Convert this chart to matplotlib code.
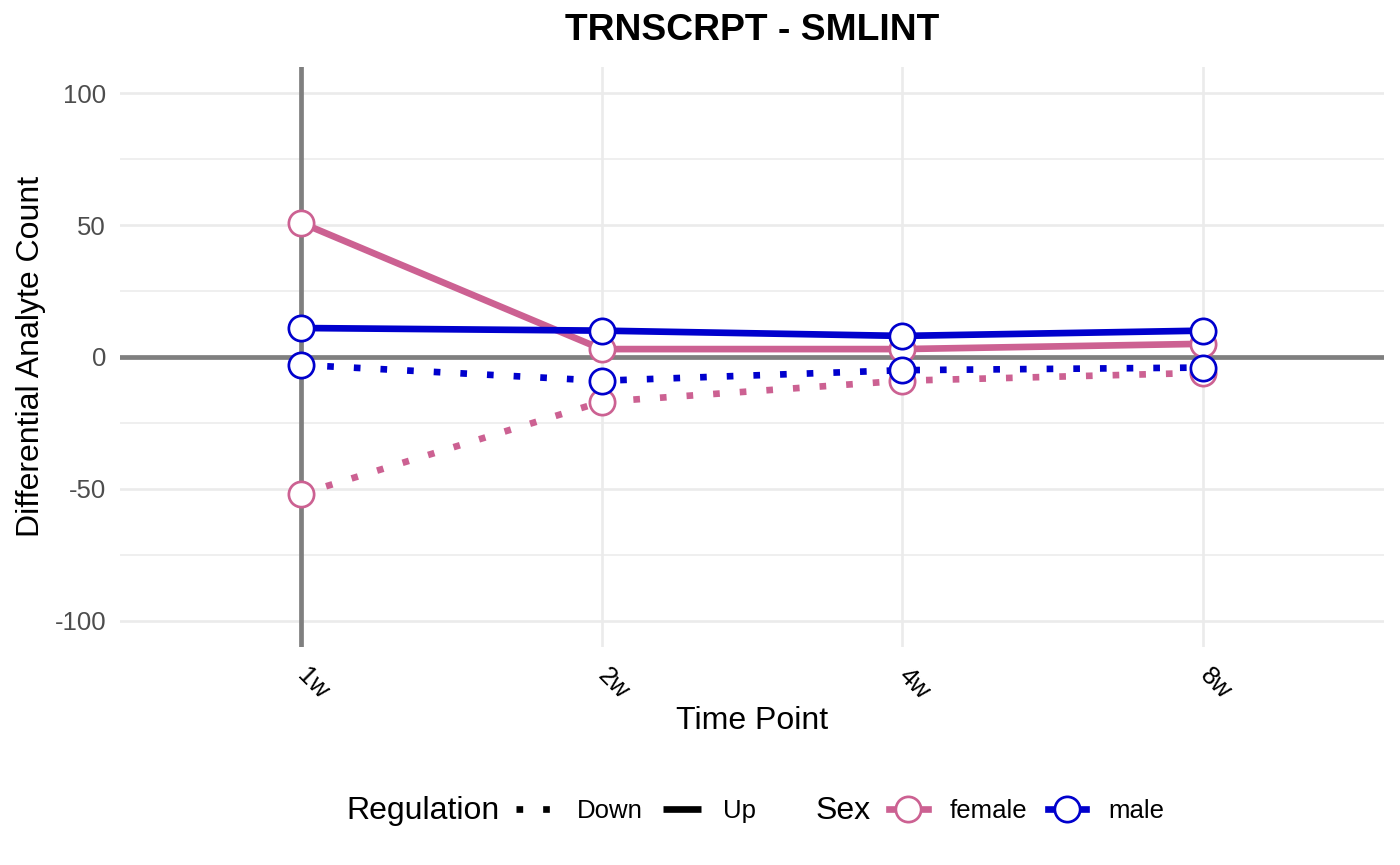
import matplotlib
matplotlib.use("Agg")
import matplotlib.pyplot as plt
from matplotlib.lines import Line2D
import numpy as np

plt.rcParams['font.family'] = ['Liberation Sans', 'DejaVu Sans']

timepoints = ['1w', '2w', '4w', '8w']
female_up = [51, 3, 3, 5]
female_down = [-52, -17, -9, -6]
male_up = [11, 10, 8, 10]
male_down = [-3, -9, -5, -4]
y_ticks = [-100, -50, 0, 50, 100]
y_minor = [-75, -25, 25, 75]

PINK = '#CC6192'
BLUE = '#0000CD'
GRID = '#EBEBEB'
REF = '#7F7F7F'

W, H = 1400, 865
fig = plt.figure(figsize=(W / 100, H / 100), dpi=100)
ax = fig.add_axes([120 / W, 1 - 647 / H, 1264 / W, 580 / H])

x = np.arange(len(timepoints))
ax.set_xlim(-0.6, 3.6)
ax.set_ylim(-110, 110)

# grid
for yv in y_ticks:
    ax.axhline(yv, color=GRID, lw=1.9, zorder=0)
for yv in y_minor:
    ax.axhline(yv, color=GRID, lw=1.1, zorder=0)
for xv in x:
    ax.axvline(xv, color=GRID, lw=1.9, zorder=0)

ax.axhline(0, color=REF, lw=3.4, zorder=1)
ax.axvline(0, color=REF, lw=3.4, zorder=1)

LW = 4.8
MS = 18.2
MEW = 1.95
dot = (0, (1, 3))
series = [
    (female_up, PINK, '-'),
    (female_down, PINK, dot),
    (male_up, BLUE, '-'),
    (male_down, BLUE, dot),
]
for vals, col, ls in series:
    ax.plot(x, vals, color=col, lw=LW, linestyle=ls, solid_capstyle='butt',
            dash_capstyle='butt', zorder=2)
for vals, col, ls in series:
    ax.plot(x, vals, linestyle='none', marker='o', ms=MS, mfc='white',
            mec=col, mew=MEW, zorder=3)

ax.set_yticks(y_ticks)
ax.set_yticklabels([str(v) for v in y_ticks])
ax.set_xticks(x)
ax.set_xticklabels(timepoints, rotation=-45, ha='left', va='center',
                   rotation_mode='anchor')
ax.tick_params(axis='y', length=0, labelsize=18.5, labelcolor='#4D4D4D', pad=10)
ax.tick_params(axis='x', length=0, labelsize=18.5, labelcolor='black', pad=18)
for s in ax.spines.values():
    s.set_visible(False)

fig.text(752 / W, 1 - 30 / H, 'TRNSCRPT - SMLINT', ha='center', va='center',
         fontsize=26.8, fontweight='bold')
fig.text(752 / W, 1 - 721 / H, 'Time Point', ha='center', va='center', fontsize=23)
fig.text(31 / W, 1 - 356 / H, 'Differential Analyte Count', ha='center', va='center',
         rotation=90, fontsize=23)

# legends
fig.text(346 / W, 1 - 811 / H, 'Regulation', ha='left', va='center', fontsize=23)
fig.text(816 / W, 1 - 811 / H, 'Sex', ha='left', va='center', fontsize=23)

h_down = Line2D([], [], color='black', lw=LW, linestyle=dot, dash_capstyle='butt')
h_up = Line2D([], [], color='black', lw=LW, solid_capstyle='butt')
leg1 = fig.legend([h_down, h_up], ['Down', 'Up'], loc='center left',
                  bbox_to_anchor=(516 / W, 1 - 811 / H), bbox_transform=fig.transFigure,
                  ncol=2, frameon=False, fontsize=18.5, handlelength=1.5,
                  handletextpad=0.85, columnspacing=0.8, borderpad=0, borderaxespad=0)
h_f = Line2D([], [], color=PINK, lw=LW, marker='o', ms=MS, mfc='white', mec=PINK, mew=MEW)
h_m = Line2D([], [], color=BLUE, lw=LW, marker='o', ms=MS, mfc='white', mec=BLUE, mew=MEW)
leg2 = fig.legend([h_f, h_m], ['female', 'male'], loc='center left',
                  bbox_to_anchor=(889 / W, 1 - 811 / H), bbox_transform=fig.transFigure,
                  ncol=2, frameon=False, fontsize=18.5, handlelength=1.5,
                  handletextpad=0.85, columnspacing=0.8, borderpad=0, borderaxespad=0)

fig.savefig('out.png', dpi=100, facecolor='white')
